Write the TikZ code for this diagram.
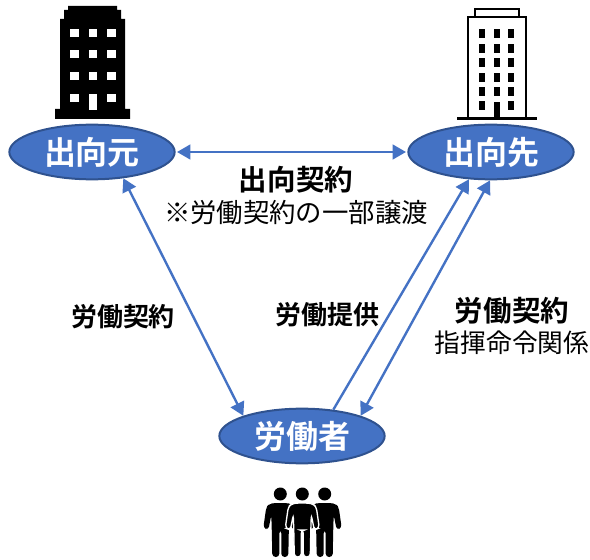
\documentclass[tikz,border=0pt]{standalone}
\usepackage{fontspec}
\setmainfont{Noto Sans CJK JP}[BoldFont={Noto Sans CJK JP Bold}]
\usepackage{xcolor}
\usetikzlibrary{arrows.meta,shapes.geometric,positioning}
\definecolor{ovalblue}{RGB}{68,114,196}
\definecolor{ovaledge}{RGB}{47,82,143}

\begin{document}
\begin{tikzpicture}[
    x=0.75pt, y=-0.75pt,
    oval/.style={ellipse, draw=ovaledge, line width=1.5pt, fill=ovalblue, text=white, minimum width=124pt, minimum height=41pt, inner sep=0pt, font=\fontsize{24}{28}\selectfont\bfseries},
    arrow/.style={{Triangle[length=10pt,width=11pt]}-{Triangle[length=10pt,width=11pt]}, line width=1.8pt, draw=ovalblue},
    oneway/.style={-{Triangle[length=10pt,width=11pt]}, line width=1.8pt, draw=ovalblue},
    boldtext/.style={font=\fontsize{#1}{26}\selectfont\bfseries, inner sep=0pt},
    plaintext/.style={font=\fontsize{#1}{26}\selectfont, inner sep=0pt},
    person/.pic={
        \fill (0,-63) circle (6.5);
        \path[pic actions, rounded corners=2.5] (-6,-54) -- (6,-54) -- (11,-53) -- (14,-50) -- (17,-29) -- (12,-27) -- (9,-42) -- (8.5,-26) -- (8,0) -- (1,0) -- (1,-27) -- (-1,-27) -- (-1,0) -- (-8,0) -- (-8.5,-26) -- (-9,-42) -- (-12,-27) -- (-17,-29) -- (-14,-50) -- (-11,-53) -- cycle;
    }
]
\useasboundingbox (0,0) rectangle (590,560);

% Ovals
\node[oval] (moto) at (92,152) {出向元};
\node[oval] (saki) at (491,152) {出向先};
\node[oval] (roudou) at (302,436) {労働者};

% Arrows
\draw[arrow] ([xshift=1]moto.east) -- ([xshift=-1]saki.west);
\draw[arrow] (moto.-40) -- (roudou.161);
\draw[oneway] (roudou.40) -- (saki.231);
\draw[arrow] (roudou.19) -- (saki.268);

% Labels
\node[boldtext=21.4] (keiyaku) at (296,180) {出向契約};
\node[plaintext=19.8] (jouto) at (296,213) {※労働契約の一部譲渡};
\node[boldtext=19.5] (leftlabel) at (123,317) {労働契約};
\node[boldtext=19.5] (midlabel) at (327,315) {労働提供};
\node[boldtext=21.4] (rightlabel) at (512,311) {労働契約};
\node[plaintext=19.3] (shiki) at (512,343) {指揮命令関係};

% Left building
\fill[black] (68,6) -- (117,6) -- (117,10) -- (121,10) -- (121,19) -- (125,19) -- (125,109) -- (130,109) -- (130,119) -- (55,119) -- (55,109) -- (60,109) -- (60,19) -- (64,19) -- (64,10) -- (68,10) -- cycle;
\foreach \wx in {70,88.5,107} \foreach \wy in {29,50,72} \fill[white] (\wx,\wy) rectangle ++(8.5,8.5);
\fill[white] (70,94) rectangle ++(8.5,8.5);
\fill[white] (107,94) rectangle ++(8.5,8.5);
\fill[white] (88.5,94) rectangle (97,110);

% Right building
\draw[line width=1.6pt] (475,17) -- (475,9) -- (519,9) -- (519,17);
\draw[line width=1.6pt] (468,118) -- (468,17) -- (526,17) -- (526,118);
\draw[line width=1.6pt] (457,118.5) -- (537,118.5);
\foreach \wx in {479,494,508} \foreach \wy in {29,44,58,73,87} \fill (\wx,\wy) rectangle ++(6,9);
\fill (479,101) rectangle ++(6,9);
\fill (508,101) rectangle ++(6,9);
\fill (494,102) rectangle (499.5,118);

% People
\pic[fill=black] at (280.3,557) {person};
\pic[fill=black] at (324.7,557) {person};
\pic[fill=black, draw=white, line width=1pt] at (302.3,557) {person};
\end{tikzpicture}
\end{document}
